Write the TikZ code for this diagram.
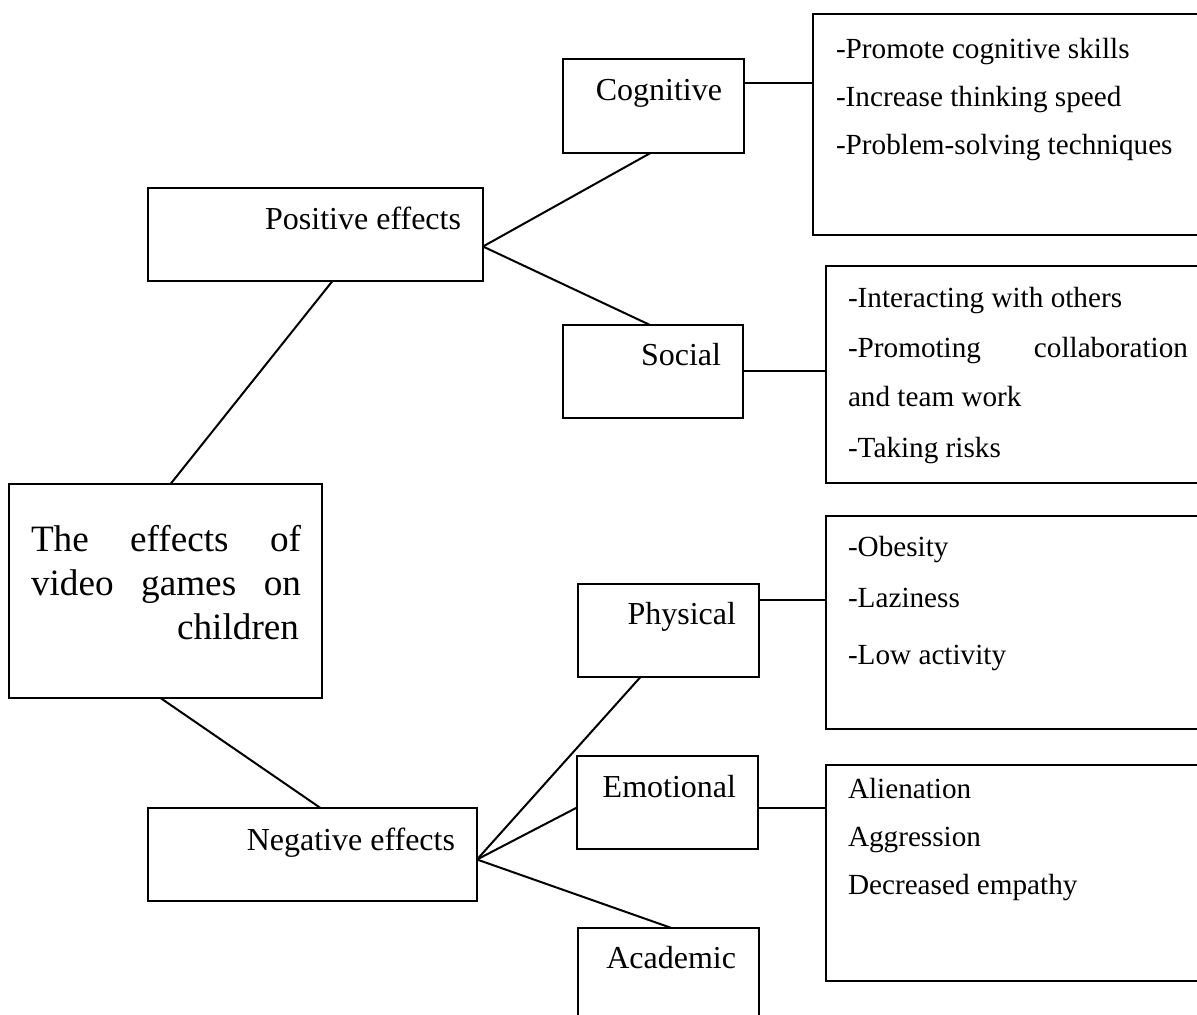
\documentclass[tikz,border=0pt]{standalone}
\usepackage{fontspec}
\setmainfont{Liberation Serif}
\usetikzlibrary{calc,fit}
\tikzset{
  box/.style={draw, rectangle, inner sep=0pt, outer sep=0pt, fit={#1}},
  lbl/.style={inner sep=0pt, anchor=base east, font=\fontsize{16}{19}\selectfont},
  item/.style={inner sep=0pt, anchor=base west, font=\fontsize{14.6}{17}\selectfont},
  ttl/.style={inner sep=0pt, font=\fontsize{18.6}{22}\selectfont},
  link/.style={draw, line width=1pt},
}
\begin{document}
\begin{tikzpicture}[x=0.5pt, y=-0.5pt, line width=1pt]
\useasboundingbox (0,0) rectangle (1197,1015);
\clip (0,0) rectangle (1197,1015);

% central topic
\node[box={(9,484) (322,698)}] (main) {};
\node[ttl, anchor=base west] (mainA) at ($(main.north west)+(21,67)$) {\makebox[135pt][s]{The effects of}};
\node[ttl, anchor=base west] (mainB) at ($(main.north west)+(21,111)$) {\makebox[135pt][s]{video games on}};
\node[ttl, anchor=base east] (mainC) at ($(main.north east)+(-22,155)$) {children};

% first level
\node[box={(148,188) (483,281)}] (pos) {};
\node[lbl] (posT) at ($(pos.north east)+(-21,42)$) {Positive effects};
\node[box={(148,808) (477,901)}] (neg) {};
\node[lbl] (negT) at ($(neg.north east)+(-21,42)$) {Negative effects};

% second level
\node[box={(563,59) (744,153)}] (cog) {};
\node[lbl] (cogT) at ($(cog.north east)+(-21,42)$) {Cognitive};
\node[box={(563,325) (743,418)}] (soc) {};
\node[lbl] (socT) at ($(soc.north east)+(-21,41)$) {Social};
\node[box={(578,584) (759,677)}] (phy) {};
\node[lbl] (phyT) at ($(phy.north east)+(-22,40)$) {Physical};
\node[box={(577,756) (758,849)}] (emo) {};
\node[lbl] (emoT) at ($(emo.north east)+(-21,41)$) {Emotional};
\node[box={(578,928) (759,1040)}] (aca) {};
\node[lbl] (acaT) at ($(aca.north east)+(-22,40)$) {Academic};

% detail lists
\node[box={(813,14) (1215,235)}] (cogL) {};
\node[item] (cogL1) at ($(cogL.north west)+(22,45)$) {-Promote cognitive skills};
\node[item] (cogL2) at ($(cogL.north west)+(22,93)$) {-Increase thinking speed};
\node[item] (cogL3) at ($(cogL.north west)+(22,141)$) {-Problem-solving techniques};

\node[box={(826,266) (1215,483)}] (socL) {};
\node[item] (socL1) at ($(socL.north west)+(21,42)$) {-Interacting with others};
\node[item] (socL2) at ($(socL.north west)+(21,92)$) {\makebox[170pt][s]{-Promoting collaboration}};
\node[item] (socL3) at ($(socL.north west)+(21,141)$) {and team work};
\node[item] (socL4) at ($(socL.north west)+(21,191)$) {-Taking risks};

\node[box={(826,516) (1215,729)}] (phyL) {};
\node[item] (phyL1) at ($(phyL.north west)+(21,40)$) {-Obesity};
\node[item] (phyL2) at ($(phyL.north west)+(21,91)$) {-Laziness};
\node[item] (phyL3) at ($(phyL.north west)+(21,148)$) {-Low activity};

\node[box={(826,765) (1215,981)}] (emoL) {};
\node[item] (emoL1) at ($(emoL.north west)+(21,33)$) {Alienation};
\node[item] (emoL2) at ($(emoL.north west)+(21,81)$) {Aggression};
\node[item] (emoL3) at ($(emoL.north west)+(21,129)$) {Decreased empathy};

% connectors
\draw[link] ($(main.north)+(5,0)$) -- ($(pos.south)+(17,0)$);
\draw[link] ($(main.south)+(-5,0)$) -- ($(neg.north)+(8,0)$);

\coordinate (posJ) at ($(pos.east)+(0,12)$);
\draw[link] (posJ) -- ($(cog.south)+(-3,0)$);
\draw[link] (posJ) -- ($(soc.north)+(-3,0)$);

\coordinate (negJ) at ($(neg.east)+(0,5)$);
\draw[link] (negJ) -- ($(phy.south)+(-28,0)$);
\draw[link] (negJ) -- ($(emo.west)+(0,5)$);
\draw[link] (negJ) -- ($(aca.north)+(3,0)$);

\coordinate (cogJ) at ($(cog.east)+(0,-23)$);
\draw[link] (cogJ) -- (cogJ -| cogL.west);
\draw[link] (soc.east) -- (soc.east -| socL.west);
\coordinate (phyJ) at ($(phy.east)+(0,-31)$);
\draw[link] (phyJ) -- (phyJ -| phyL.west);
\coordinate (emoJ) at ($(emo.east)+(0,5)$);
\draw[link] (emoJ) -- (emoJ -| emoL.west);
\end{tikzpicture}
\end{document}
